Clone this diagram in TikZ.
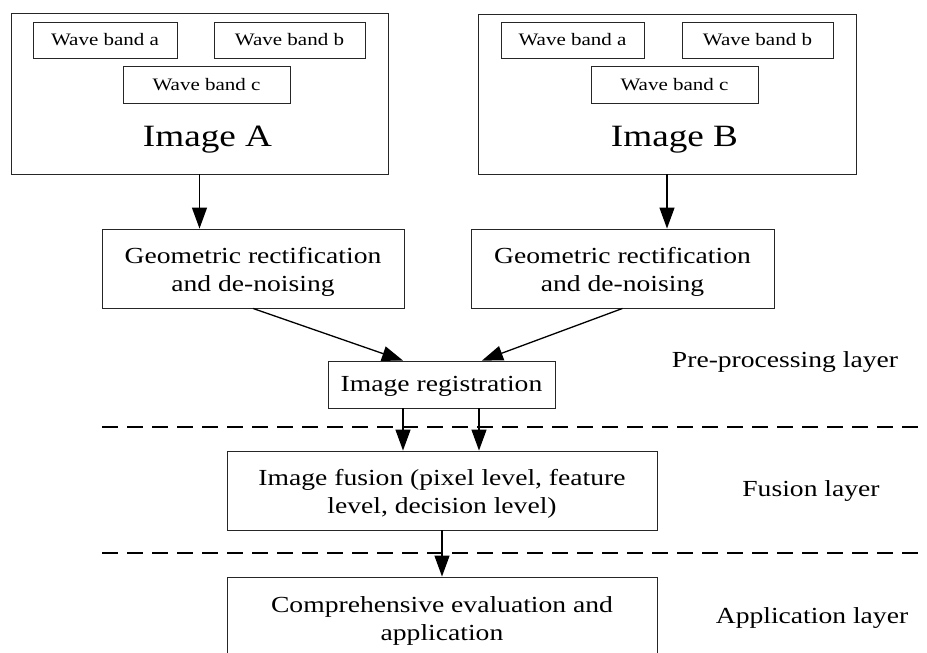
\documentclass[tikz,border=0pt]{standalone}
\usepackage{fontspec}
\setmainfont{Liberation Serif}[FakeStretch=1.2]
\usetikzlibrary{arrows.meta}
\newcommand\myup{\rule{0pt}{23pt}}
\begin{document}
\begin{tikzpicture}[x=1pt,y=-1pt,
  box/.style={draw=black!85, line width=0.9pt, inner sep=0pt, align=center, font=\fontsize{23}{28}\selectfont},
  band/.style={draw=black!85, line width=0.9pt, inner sep=0pt, minimum height=36pt, font=\fontsize{17.5}{20}\selectfont},
  big/.style={font=\fontsize{31}{36}\selectfont, inner sep=0pt, anchor=base},
  layer/.style={font=\fontsize{23}{28}\selectfont, inner sep=0pt, anchor=base},
  arr/.style={-{Triangle[length=21pt,width=15pt]}, line width=1.3pt},
  sep/.style={dash pattern=on 16pt off 9pt, line width=1.2pt}]
\clip (0,0) rectangle (927,653);
\useasboundingbox (0,0) rectangle (927,653);
% Image A
\node[box, minimum width=377pt, minimum height=160.5pt] (imgA) at (199.5,93.75) {};
\node[band, minimum width=144pt] (waA) at (105,40) {Wave band a};
\node[band, minimum width=151pt] (wbA) at (289.5,40) {Wave band b};
\node[band, minimum width=167pt, minimum height=37pt] (wcA) at (206.5,84.5) {Wave band c};
\node[big] (labA) at (207.5,146) {Image A};
% Image B
\node[box, minimum width=378pt, minimum height=160pt] (imgB) at (667,94) {};
\node[band, minimum width=143pt] (waB) at (572.5,40) {Wave band a};
\node[band, minimum width=151pt] (wbB) at (757.5,40) {Wave band b};
\node[band, minimum width=167pt, minimum height=37pt] (wcB) at (674.5,84.5) {Wave band c};
\node[big] (labB) at (674.5,146) {Image B};
% processing
\node[box, minimum width=302pt, minimum height=79pt] (geoA) at (253,268.5) {\myup Geometric rectification\\and de-noising};
\node[box, minimum width=303pt, minimum height=79pt] (geoB) at (622.5,268.5) {\myup Geometric rectification\\and de-noising};
\node[box, minimum width=227pt, minimum height=47pt] (reg) at (441.5,384.5) {\rule{0pt}{18pt}Image registration};
\node[box, minimum width=430pt, minimum height=79pt] (fus) at (442,490.5) {\myup Image fusion (pixel level, feature\\level, decision level)};
\node[box, minimum width=430pt, minimum height=80pt] (comp) at (442,617) {\myup Comprehensive evaluation and\\application};
% layer labels
\node[layer] (lpre) at (785,367) {Pre-processing layer};
\node[layer] (lfus) at (811,496) {Fusion layer};
\node[layer] (lapp) at (812,623) {Application layer};
% separators
\coordinate (s1a) at (102,427); \coordinate (s1b) at (930,427);
\coordinate (s2a) at (102,553); \coordinate (s2b) at (930,553);
\draw[sep] (s1a) -- (s1b);
\draw[sep] (s2a) -- (s2b);
% connectors
\draw[arr] (imgA.south) -- (imgA.south |- geoA.north);
\draw[arr] (imgB.south) -- (imgB.south |- geoB.north);
\coordinate (rinL) at ([xshift=-38.5pt]reg.north);
\coordinate (rinR) at ([xshift=40.5pt]reg.north);
\draw[arr] (geoA.south) -- (rinL);
\draw[arr] (geoB.south) -- (rinR);
\coordinate (routL) at ([xshift=-38.5pt]reg.south);
\coordinate (routR) at ([xshift=37.5pt]reg.south);
\draw[arr] (routL) -- (routL |- fus.north);
\draw[arr] (routR) -- (routR |- fus.north);
\draw[arr] (fus.south) -- (comp.north);
\end{tikzpicture}
\end{document}
